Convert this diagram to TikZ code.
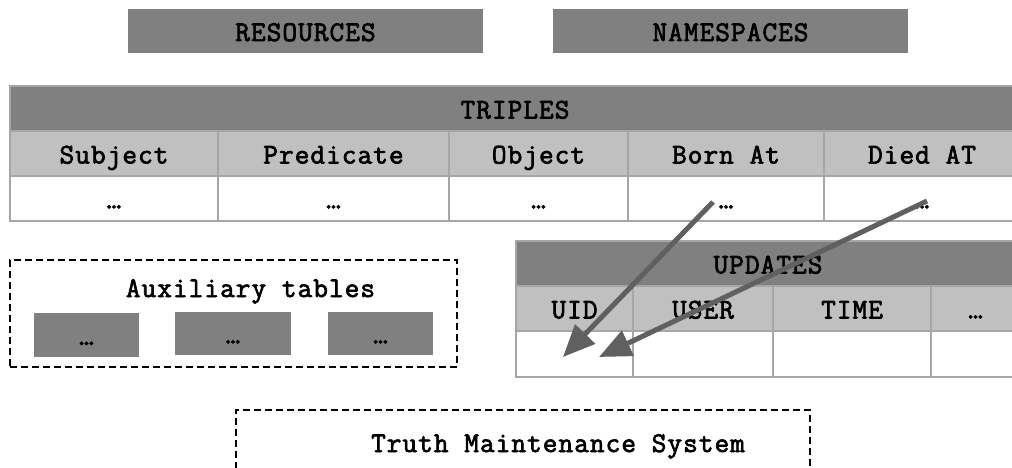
\documentclass[tikz,border=0pt]{standalone}
\usepackage{fontspec}
\newfontfamily\labelfont{Latin Modern Mono}[FakeBold=2.4, LetterSpace=3.6]
\usetikzlibrary{arrows.meta}
\definecolor{hdr}{HTML}{808080}
\definecolor{sub}{HTML}{C0C0C0}
\definecolor{rule}{HTML}{A6A6A6}
\definecolor{arr}{HTML}{606060}

\begin{document}
\begin{tikzpicture}[x=1pt,y=-1pt,
  every node/.style={font=\labelfont\fontsize{28.5}{32}\selectfont, inner sep=0pt,
                     text height=20pt, text depth=0pt},
  cell/.style={draw=rule, line width=1.5pt, minimum height=45pt},
  graybox/.style={fill=hdr, minimum height=44pt},
  dashbox/.style={draw=black, line width=1.5pt, dash pattern=on 7pt off 4pt},
  conn/.style={draw=arr, line width=5pt, -{Triangle[length=32pt,width=27pt]}}
]
\useasboundingbox (0,0) rectangle (1012,468);
\fill[white] (0,0) rectangle (1012,468);
\clip (0,0) rectangle (1012,468);

% top-level stores
\node[graybox, minimum width=355pt] (resources) at (305.5,31) {RESOURCES};
\node[graybox, minimum width=355pt] (namespaces) at (730.5,31) {NAMESPACES};

% TRIPLES table
\node[cell, fill=hdr, minimum width=1010pt] (triples) at (515,108.5) {TRIPLES};
\node[cell, fill=sub, minimum width=208pt] (subj) at (114,153.5) {Subject};
\node[cell, fill=sub, minimum width=231pt] (pred) at (333.5,153.5) {Predicate};
\node[cell, fill=sub, minimum width=179pt] (obj)  at (538.5,153.5) {Object};
\node[cell, fill=sub, minimum width=196pt] (born) at (726,153.5) {Born At};
\node[cell, fill=sub, minimum width=196pt] (died) at (922,153.5) {Died AT};
\node[cell, fill=white, minimum width=208pt] (subjv) at (114,198.5) {…};
\node[cell, fill=white, minimum width=231pt] (predv) at (333.5,198.5) {…};
\node[cell, fill=white, minimum width=179pt] (objv)  at (538.5,198.5) {…};
\node[cell, fill=white, minimum width=196pt] (bornv) at (726,198.5) {…};
\node[cell, fill=white, minimum width=196pt] (diedv) at (922,198.5) {…};

% auxiliary tables
\node[dashbox, minimum width=447pt, minimum height=107pt] (aux) at (233.5,313.5) {};
\node (auxtitle) at (250.5,287) {Auxiliary tables};
\node[graybox, minimum width=105pt] (auxa) at (86.5,335) {…};
\node[graybox, minimum width=116pt, minimum height=43pt] (auxb) at (233,333.5) {…};
\node[graybox, minimum width=105pt, minimum height=43pt] (auxc) at (380.5,333.5) {…};

% UPDATES table
\node[cell, fill=hdr, minimum width=504pt] (updates) at (768,263.5) {UPDATES};
\node[cell, fill=sub, minimum width=117pt] (uid)  at (574.5,308.5) {UID};
\node[cell, fill=sub, minimum width=140pt] (user) at (703,308.5) {USER};
\node[cell, fill=sub, minimum width=158pt] (time) at (852,308.5) {TIME};
\node[cell, fill=sub, minimum width=89pt]  (more) at (975.5,308.5) {…};
\node[cell, fill=white, minimum width=117pt, minimum height=46pt] (uidv)  at (574.5,354) {};
\node[cell, fill=white, minimum width=140pt, minimum height=46pt] (userv) at (703,354) {};
\node[cell, fill=white, minimum width=158pt, minimum height=46pt] (timev) at (852,354) {};
\node[cell, fill=white, minimum width=89pt,  minimum height=46pt] (morev) at (975.5,354) {};

% truth maintenance system
\node[dashbox, minimum width=574pt, minimum height=120pt, anchor=north west] (tms) at (235,409) {};
\node (tmstitle) at (558,442) {Truth Maintenance System};

% update links
\coordinate (bornfrom) at (713,202);
\coordinate (bornto)   at (563,357);
\coordinate (diedfrom) at (927,201);
\coordinate (diedto)   at (599,357);
\draw[conn] (bornfrom) -- (bornto);
\draw[conn] (diedfrom) -- (diedto);
\end{tikzpicture}
\end{document}
